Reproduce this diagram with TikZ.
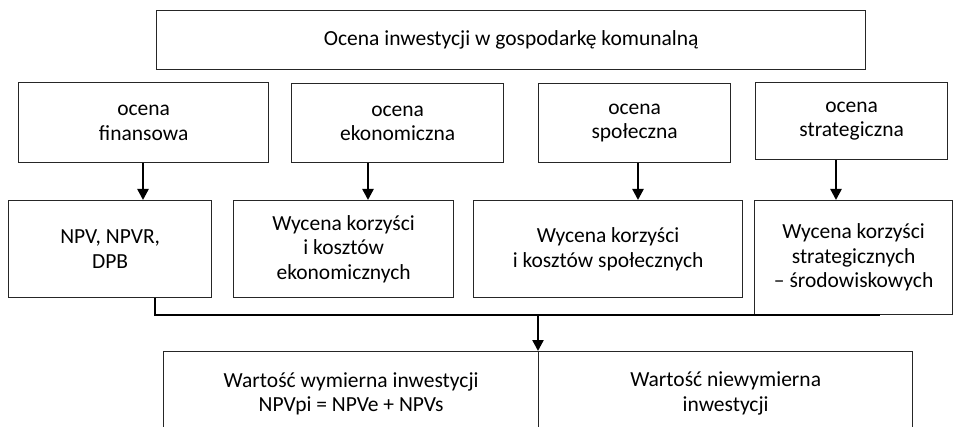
\documentclass[tikz,border=0pt]{standalone}
\usepackage{fontspec}
\setmainfont{Carlito}
\usetikzlibrary{arrows.meta}
\begin{document}
\begin{tikzpicture}[x=1pt,y=-1pt,
  box/.style={draw=black!85, line width=1.3pt, align=center, anchor=north west, inner sep=0pt, font=\fontsize{21.5}{24.5}\selectfont},
  conn/.style={line width=2.4pt, black},
  arr/.style={conn, -{Triangle[length=11pt,width=11pt]}}]
\useasboundingbox (0,0) rectangle (955,427);
\clip (0,0) rectangle (955,427);
\node[box, minimum width=709pt, minimum height=59pt] (top) at (156,10) {Ocena inwestycji w gospodarkę komunalną};
% row 2
\node[box, minimum width=250pt, minimum height=80pt] (a1) at (18,82) {ocena\\finansowa};
\node[box, minimum width=212pt, minimum height=79pt] (a2) at (291,83) {ocena\\ekonomiczna};
\node[box, minimum width=192pt, minimum height=79pt] (a3) at (538,83) {ocena\\społeczna};
\node[box, minimum width=192pt, minimum height=77pt] (a4) at (755,82) {ocena\\strategiczna};
% row 3
\node[box, minimum width=203pt, minimum height=97pt] (c1) at (8,200) {NPV, NPVR,\\DPB};
\node[box, minimum width=220pt, minimum height=97pt] (c2) at (233,200) {Wycena korzyści\\i kosztów\\ekonomicznych};
\node[box, minimum width=269pt, minimum height=97pt] (c3) at (473,200) {Wycena korzyści\\i kosztów społecznych};
\node[box, minimum width=198pt, minimum height=114pt] (c4) at (754,200) {Wycena korzyści\\strategicznych\\– środowiskowych};
% bottom
\node[box, minimum width=375pt, minimum height=84pt] (d1) at (163,351) {Wartość wymierna inwestycji\\NPVpi = NPVe + NPVs};
\node[box, minimum width=374pt, minimum height=84pt] (d2) at (538,351) {Wartość niewymierna\\inwestycji};
% connector positions
\coordinate (x1) at (143,0);
\coordinate (x2) at (368,0);
\coordinate (x3) at (638,0);
\coordinate (x4) at (836,0);
\coordinate (m1) at (155,315);
\coordinate (m2) at (880,315);
\coordinate (mj) at (538,315);
\draw[arr] (a1.south -| x1) -- (c1.north -| x1);
\draw[arr] (a2.south -| x2) -- (c2.north -| x2);
\draw[arr] (a3.south -| x3) -- (c3.north -| x3);
\draw[arr] (a4.south -| x4) -- (c4.north -| x4);
\draw[conn] (c1.south -| m1) -- (m1) -- (m2);
\draw[arr] (mj) -- (mj |- d1.north);
\end{tikzpicture}
\end{document}
